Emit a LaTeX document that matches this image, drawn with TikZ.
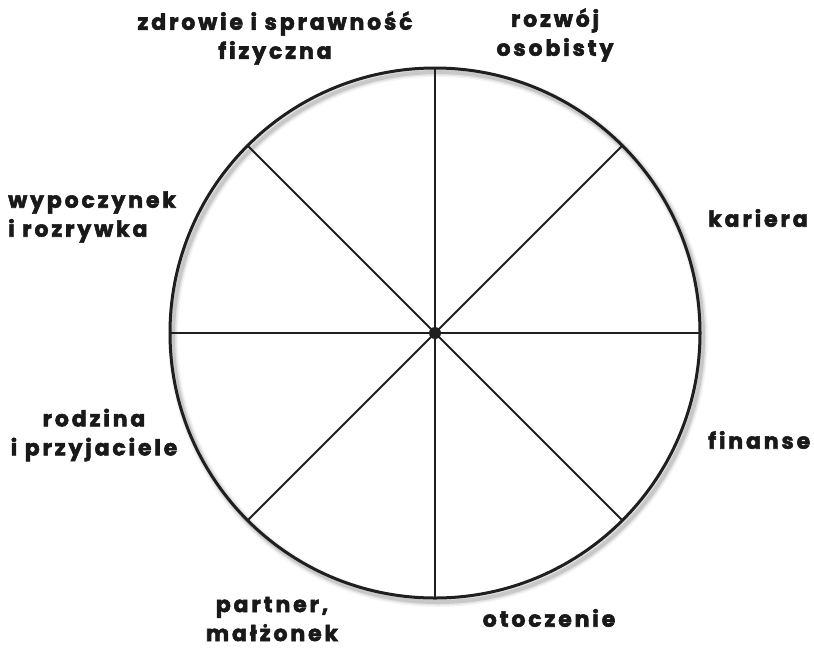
\documentclass[tikz,border=0pt]{standalone}
\usepackage{fontspec}
\newfontfamily\wheelfont[LetterSpace=13, BoldFeatures={FakeBold=2.5}]{Poppins}
\usepackage{tikz}
\usetikzlibrary{positioning}

\begin{document}
\begin{tikzpicture}[
    x=1pt, y=-1pt,
    lbl/.style={font=\wheelfont\bfseries\fontsize{22}{29}\selectfont, text=black!90, inner sep=0pt, align=center},
    rim/.style={line width=3pt, draw=black!88},
    spoke/.style={line width=2pt, draw=black!88}
]
    \useasboundingbox (0,0) rectangle (814,649);

    % soft shadow under the rim
    \foreach \w/\o in {10/0.04, 7/0.07, 4/0.12}
        \draw[line width=\w pt, black, opacity=\o] (438,337) circle[radius=265];

    \node[circle, fill=black!88, inner sep=0pt, minimum size=12pt] (hub) at (435,333) {};
    \foreach \a in {0,45,...,315}
        \draw[spoke] (hub.center) -- ++(\a:265);
    \draw[rim] (hub.center) circle[radius=265];

    \node[lbl] (zdrowie) at (275,38) {zdrowie i sprawność\\fizyczna};
    \node[lbl] (rozwoj) at (555,35) {rozwój\\osobisty};
    \node[lbl, anchor=west] (kariera) at (708,218) {kariera};
    \node[lbl, anchor=west] (finanse) at (708,440) {finanse};
    \node[lbl] (otoczenie) at (549,618) {otoczenie};
    \node[lbl] (partner) at (272,619) {partner,\\małżonek};
    \node[lbl, align=left, anchor=west] (wypoczynek) at (8,217) {wypoczynek\\i rozrywka};
    \node[lbl] (rodzina) at (94,435) {rodzina\\i przyjaciele};
\end{tikzpicture}
\end{document}
